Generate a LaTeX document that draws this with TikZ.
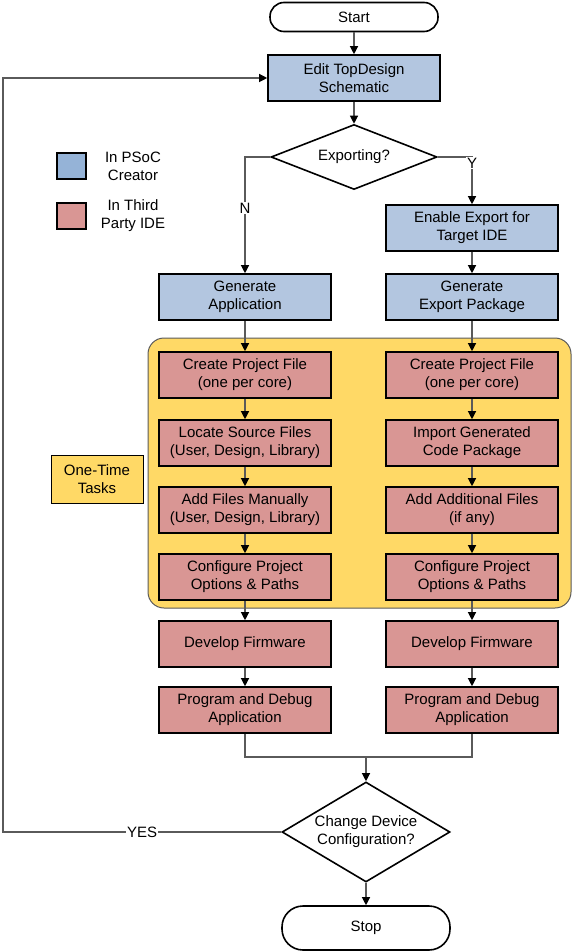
\documentclass[tikz,border=0pt]{standalone}
\usepackage{fontspec}
\setmainfont{Liberation Sans}
\usetikzlibrary{shapes.geometric,arrows.meta}
\definecolor{boxblue}{HTML}{B3C6E0}
\definecolor{legblue}{HTML}{95B3D7}
\definecolor{boxred}{HTML}{D99694}
\definecolor{regyellow}{HTML}{FFD966}
\definecolor{linegray}{HTML}{5A5A5A}
\begin{document}
\begin{tikzpicture}[x=1pt,y=-1pt,
  font=\fontsize{15}{18}\selectfont,
  base/.style={draw=black,line width=1.6pt,align=center,inner sep=0pt},
  bluebox/.style={base,fill=boxblue,minimum width=172pt,minimum height=46pt},
  redbox/.style={base,fill=boxred,minimum width=172pt,minimum height=46pt},
  term/.style={base,fill=white,minimum width=168pt},
  dec/.style={base,diamond,aspect=2,fill=white},
  conn/.style={draw=linegray,line width=1.2pt,-{Triangle[length=8pt,width=8pt,color=black]}},
  plain/.style={draw=linegray,line width=1.2pt},
  lbl/.style={fill=white,inner sep=1pt}
]
\useasboundingbox (0,0) rectangle (575,952);

% region
\node[draw=linegray,line width=1pt,fill=regyellow,rounded corners=16pt,
      minimum width=423pt,minimum height=270pt,inner sep=0pt] (region) at (359.5,473) {};

% legend
\node[base,fill=legblue,minimum width=29pt,minimum height=26pt] (lb) at (71.5,166) {};
\node[align=center] (lbt) at (133,166) {In PSoC\\Creator};
\node[base,fill=boxred,minimum width=29pt,minimum height=26pt] (lr) at (71.5,216) {};
\node[align=center] (lrt) at (133,216) {In Third\\Party IDE};

\node[base,line width=1pt,fill=regyellow,minimum width=92pt,minimum height=48pt] (onetime) at (97,479) {One-Time\\Tasks};

% top
\node[term,rounded corners=14pt,minimum height=29pt] (start) at (354,17) {Start};
\node[bluebox] (edit) at (354,78) {Edit TopDesign\\Schematic};
\node[dec,minimum width=166pt,minimum height=65pt] (exp) at (354,157) {};
\node at (exp.center) {Exporting?};
\node[bluebox] (enable) at (472,228) {Enable Export for\\Target IDE};
\node[bluebox] (genexp) at (472,297) {Generate\\Export Package};
\node[bluebox] (genapp) at (245,297) {Generate\\Application};

% left column
\node[redbox] (l1) at (245,375) {Create Project File\\(one per core)};
\node[redbox] (l2) at (245,443) {Locate Source Files\\(User, Design, Library)};
\node[redbox] (l3) at (245,510) {Add Files Manually\\(User, Design, Library)};
\node[redbox] (l4) at (245,577) {Configure Project\\Options \& Paths};
\node[redbox] (l5) at (245,644) {Develop Firmware};
\node[redbox] (l6) at (245,710) {Program and Debug\\Application};

% right column
\node[redbox] (r1) at (472,375) {Create Project File\\(one per core)};
\node[redbox] (r2) at (472,443) {Import Generated\\Code Package};
\node[redbox] (r3) at (472,510) {Add Additional Files\\(if any)};
\node[redbox] (r4) at (472,577) {Configure Project\\Options \& Paths};
\node[redbox] (r5) at (472,644) {Develop Firmware};
\node[redbox] (r6) at (472,710) {Program and Debug\\Application};

% bottom
\node[dec,minimum width=168pt,minimum height=100pt] (chg) at (366,832) {};
\node[align=center] at (chg.center) {Change Device\\Configuration?};
\node[term,rounded corners=21pt,minimum height=44pt] (stop) at (366,928) {Stop};

% connectors
\draw[conn] (start) -- (edit);
\draw[conn] (edit) -- (exp);
\draw[conn] (exp.west) -| node[lbl,pos=0.72]{N} (genapp.north);
\coordinate (ycorner) at (472,157);
\draw[conn] (exp.east) -- (ycorner) -- (enable.north);
\node[lbl] (ylab) at (472,163) {Y};
\draw[conn] (enable) -- (genexp);
\draw[conn] (genapp) -- (l1);
\draw[conn] (genexp) -- (r1);
\draw[conn] (l1) -- (l2);
\draw[conn] (l2) -- (l3);
\draw[conn] (l3) -- (l4);
\draw[conn] (l4) -- (l5);
\draw[conn] (l5) -- (l6);
\draw[conn] (r1) -- (r2);
\draw[conn] (r2) -- (r3);
\draw[conn] (r3) -- (r4);
\draw[conn] (r4) -- (r5);
\draw[conn] (r5) -- (r6);
\coordinate (merge) at (366,757);
\draw[plain] (l6.south) |- (merge) -| (r6.south);
\draw[conn] (merge) -- (chg.north);
\draw[conn] (chg) -- (stop);
\coordinate (loop) at (3,832);
\draw[conn] (chg.west) -- node[lbl]{YES} (loop) |- (edit.west);
\end{tikzpicture}
\end{document}
